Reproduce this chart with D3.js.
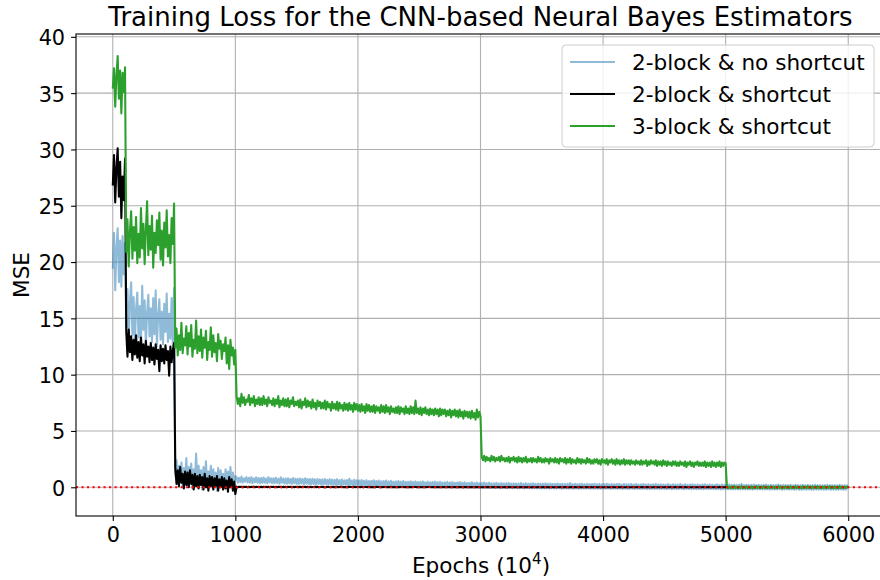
<!DOCTYPE html>
<html><head><meta charset="utf-8">
<script src="https://cdn.jsdelivr.net/npm/d3@7/dist/d3.min.js"></script>
<style>
body{margin:0;background:#fff;}
text{font-family:"DejaVu Sans",sans-serif;fill:#000;}
</style>
</head><body>
<svg id="chart" width="880" height="580"></svg>
<script>
// ---------------- data ----------------
const EPOCH_STEP = 10; // one recorded value every 10 (x10^4) epochs, epoch 0 .. 6000
const xTicks = [0, 1000, 2000, 3000, 4000, 5000, 6000];
const yTicks = [0, 5, 10, 15, 20, 25, 30, 35, 40];
const seriesNames = ["2-block & no shortcut", "2-block & shortcut", "3-block & shortcut"];
const titleText = "Training Loss for the CNN-based Neural Bayes Estimators";

const noShortcut2 = [
  19.4,22.6,17.5,21.3,23.0,18.2,21.9,17.8,22.3,18.9,21.7,
  14.2,17.6,13.0,16.4,18.2,13.5,16.9,12.7,15.8,17.3,
  13.3,16.1,12.8,17.9,14.0,16.6,12.6,15.5,17.1,13.4,
  15.9,12.9,16.8,13.6,17.5,12.5,15.2,16.7,13.1,15.6,
  12.7,16.3,13.8,17.2,12.9,15.4,13.2,16.8,12.6,17.7,
  1.1,2.4,0.3,1.9,0.6,2.2,0.1,1.7,0.5,2.6,
  0.2,1.8,0.7,2.1,-0.1,1.6,0.4,3.0,0.2,1.9,
  0.5,1.5,-0.2,1.8,0.3,2.3,0.1,1.4,0.6,1.9,
  0.0,1.6,0.4,1.3,-0.3,1.7,0.2,1.5,0.5,1.2,
  -0.1,1.6,0.3,1.4,0.0,1.8,0.2,1.3,-0.2,1.0,
  .9,.4,.85,.45,.95,.4,.8,.5,.9,.42,
  .85,.4,.9,.38,.8,.45,.88,.4,.82,.36,
  .82,.38,.86,.4,.78,.35,.9,.42,.8,.36,
  .8,.35,.84,.38,.76,.32,.88,.4,.78,.34,
  .78,.32,.8,.36,.74,.3,.82,.35,.76,.3,
  .75,.3,.78,.34,.72,.28,.8,.32,.74,.28,
  .72,.26,.76,.3,.7,.25,.74,.3,.7,.24,
  .7,.24,.74,.28,.66,.22,.72,.26,.68,.22,
  .66,.2,.72,.25,.64,.18,.68,.24,.62,.2,
  .64,.18,.76,.22,.6,.16,.66,.2,.62,.18,
  .6,.15,.64,.2,.58,.14,.62,.18,.56,.12,
  .58,.12,.62,.16,.55,.1,.6,.15,.54,.12,
  .55,.1,.6,.14,.52,.08,.58,.12,.5,.1,
  .52,.08,.56,.12,.5,.06,.55,.1,.48,.08,
  .5,.06,.54,.1,.48,.04,.52,.08,.46,.06,
  .48,.04,.52,.08,.45,.02,.5,.06,.44,.04,
  .46,.02,.5,.06,.44,0,.48,.04,.42,.02,
  .44,0,.48,.04,.42,-.02,.46,.02,.4,0,
  .42,-.02,.46,.02,.4,-.04,.44,0,.38,-.02,
  .4,-.04,.44,0,.38,-.05,.42,-.02,.36,-.04,
  .38,-.05,.42,-.02,.36,-.06,.4,-.04,.35,-.05,
  .36,-.06,.4,-.04,.34,-.08,.38,-.05,.34,-.06,
  .35,-.08,.38,-.05,.32,-.08,.36,-.06,.33,-.08,
  .34,-.08,.37,-.06,.31,-.1,.35,-.07,.32,-.08,
  .33,-.1,.36,-.07,.3,-.1,.34,-.08,.31,-.1,
  .32,-.1,.35,-.08,.3,-.12,.33,-.09,.3,-.1,
  .31,-.1,.34,-.09,.29,-.12,.32,-.1,.29,-.11,
  .3,-.12,.38,-.1,.28,-.12,.31,-.1,.28,-.12,
  .3,-.12,.32,-.1,.27,-.13,.3,-.11,.28,-.12,
  .29,-.12,.31,-.11,.27,-.14,.3,-.12,.27,-.13,
  .28,-.13,.31,-.11,.26,-.14,.29,-.12,.26,-.13,
  .28,-.14,.3,-.12,.25,-.15,.28,-.13,.26,-.14,
  .27,-.14,.3,-.12,.25,-.15,.28,-.13,.25,-.14,
  .26,-.15,.29,-.13,.24,-.16,.27,-.14,.25,-.15,
  .26,-.15,.29,-.13,.24,-.16,.27,-.14,.24,-.15,
  .25,-.16,.28,-.14,.23,-.17,.26,-.15,.24,-.16,
  .25,-.16,.28,-.14,.23,-.17,.26,-.15,.23,-.16,
  .24,-.17,.27,-.15,.22,-.18,.25,-.16,.23,-.17,
  .24,-.17,.27,-.15,.22,-.18,.25,-.16,.22,-.17,
  .23,-.18,.26,-.16,.21,-.19,.24,-.17,.22,-.18,
  .23,-.18,.26,-.16,.21,-.2,.24,-.17,.21,-.18,
  .22,-.19,.3,-.17,.2,-.2,.23,-.18,.21,-.19,
  .22,-.19,.25,-.17,.2,-.2,.23,-.18,.2,-.19,
  .21,-.2,.24,-.18,.19,-.21,.22,-.19,.2,-.2,
  .21,-.2,.24,-.18,.19,-.21,.22,-.19,.19,-.2,
  .2,-.2,.23,-.19,.18,-.22,.21,-.2,.19,-.21,
  .2,-.21,.23,-.19,.18,-.22,.21,-.2,.18,-.21,
  .19,-.21,.22,-.2,.17,-.22,.2,-.2,.18,-.21,
  .19,-.22,.22,-.2,.17,-.22,.2,-.21,.17,-.22,
  .18,-.22,.21,-.2,.17,-.22,.19,-.21,.17,0
];

const shortcut2 = [
  26.8,29.5,25.3,28.4,30.1,25.8,28.9,23.9,27.6,25.5,29.2,
  13.8,11.6,14.0,12.0,13.4,11.3,13.1,11.8,13.5,11.5,
  12.9,11.2,13.3,11.7,12.7,11.0,13.0,11.6,12.5,11.1,
  12.8,11.3,12.4,10.9,12.7,11.4,12.2,10.3,12.6,11.2,
  12.3,11.0,12.6,11.3,12.1,9.9,12.5,11.1,12.2,12.8,
  1.7,0.3,1.5,0.1,1.8,0.4,1.2,-0.1,1.4,0.2,
  1.3,0.0,1.5,0.3,1.1,-0.2,1.2,0.1,1.0,-0.1,
  1.1,0.2,0.9,-0.2,1.2,0.0,0.8,-0.3,1.0,0.1,
  0.9,-0.2,0.8,0.1,1.0,-0.3,0.7,0.0,0.9,-0.2,
  0.8,-0.1,0.6,-0.4,0.9,0.0,0.7,-0.3,0.5,-0.6,
  .06,.01,.05,.02,.06,0,.05,.02,.05,.01,
  .05,.01,.04,.02,.06,0,.04,.02,.05,.01,
  .05,0,.04,.02,.05,.01,.04,0,.05,.02,
  .04,.01,.05,0,.04,.02,.05,.01,.04,0,
  .04,.01,.05,.02,.04,0,.05,.01,.04,.02,
  .05,0,.04,.01,.05,.02,.04,0,.04,.01,
  .04,.01,.03,.02,.05,0,.04,.01,.03,.02,
  .04,0,.03,.01,.04,.02,.03,0,.04,.01,
  .03,.01,.04,0,.03,.02,.04,.01,.03,0,
  .03,.01,.04,.02,.03,0,.04,.01,.03,.02,
  .03,0,.04,.01,.03,.02,.03,0,.04,.01,
  .03,.01,.03,0,.04,.02,.03,.01,.03,0,
  .03,.02,.03,0,.03,.01,.04,0,.03,.01,
  .02,.01,.03,0,.03,.02,.02,0,.03,.01,
  .03,0,.02,.01,.03,.02,.02,0,.03,.01,
  .02,.01,.03,0,.02,.01,.03,.02,.02,0,
  .02,0,.03,.01,.02,0,.02,.01,.03,0,
  .02,.01,.02,0,.03,.01,.02,0,.02,.01,
  .02,0,.02,.01,.02,0,.03,.01,.02,0,
  .02,.01,.02,0,.02,.01,.02,0,.02,.01,
  .01,.02,0,.02,.01,.02,0,.01,.02,0,
  .02,0,.01,.02,0,.01,.02,0,.01,.02,
  .01,0,.02,.01,0,.02,.01,0,.01,.02,
  0,.01,.02,0,.01,.02,0,.01,.02,.01,
  .01,0,.02,.01,0,.01,.02,0,.01,.01,
  .02,.01,0,.02,.01,0,.01,.02,0,.01,
  .01,.02,0,.01,.02,0,.01,.01,.02,0,
  .01,0,.01,.02,0,.01,.02,.01,0,.01,
  .02,0,.01,.01,0,.02,.01,0,.01,.02,
  0,.01,.02,.01,0,.01,.02,0,.01,.01,
  .01,0,.02,.01,0,.01,.01,.02,0,.01,
  .02,.01,0,.01,.02,0,.01,.01,0,.02,
  .01,0,.01,.02,.01,0,.01,.02,0,.01,
  0,.02,.01,0,.01,.02,.01,0,.01,.01,
  .01,.02,0,.01,.01,0,.02,.01,0,.01,
  .02,0,.01,.01,.02,0,.01,0,.02,.01,
  .01,0,.02,.01,0,.01,.02,.01,0,.01,
  0,.01,.01,.02,0,.01,.01,0,.02,.01,
  .01,.02,0,.01,.01,.02,0,.01,.01,0,
  .02,.01,0,.01,.02,.01,0,.01,.01,.02,
  .01,0,.01,.02,0,.01,.02,.01,0,.01,
  0,.01,.02,.01,0,.02,.01,0,.01,.02,
  .01,.02,0,.01,.02,0,.01,.01,.02,0,
  .01,0,.02,.01,.01,0,.02,.01,0,.01,
  .02,.01,0,.01,.02,.01,0,.02,.01,0,
  .01,.02,.01,0,.01,.02,0,.01,.02,.01,
  0,.01,.02,.01,0,.01,.02,0,.01,.02,
  .01,0,.01,.02,.01,0,.01,.02,.01,0,
  .01,.02,0,.01,.01,.02,0,.01,.02,.01,
  .02,0,.01,.02,.01,0,.01,.02,.01,.01
];

const shortcut3 = [
  35.4,37.2,33.8,36.6,38.3,34.5,37.0,33.2,36.8,35.1,37.3,
  20.9,23.8,19.6,22.7,24.5,20.3,23.1,21.0,24.0,19.9,
  22.5,20.4,24.8,21.2,23.4,19.8,22.9,25.4,20.6,23.2,
  21.1,24.1,19.5,22.6,20.8,23.7,21.5,24.4,20.2,22.8,
  19.7,23.5,21.3,24.6,20.5,22.4,19.9,23.9,21.6,25.2,
  12.4,14.1,11.7,13.5,12.2,14.6,11.9,13.2,12.6,14.3,
  11.8,13.7,12.5,14.4,11.6,13.1,12.3,14.8,11.9,13.4,
  12.1,14.0,11.5,13.3,12.4,13.9,11.3,12.9,12.2,14.2,
  11.6,13.5,12.0,12.8,11.2,13.6,12.3,13.0,11.4,12.7,
  12.1,13.3,11.0,12.6,10.5,13.1,11.7,12.4,10.9,12.2,
  8.1,7.4,7.9,7.2,8.3,7.5,8.0,7.3,7.8,7.6,
  8.2,7.3,7.9,7.5,8.1,7.2,7.8,7.4,8.0,7.3,
  7.9,7.3,8.1,7.4,7.8,7.2,8.0,7.5,7.7,7.3,
  7.9,7.2,7.8,7.4,8.1,7.1,7.7,7.3,7.9,7.2,
  7.8,7.2,7.9,7.1,7.7,7.4,8.0,7.2,7.6,7.3,
  7.7,7.1,7.8,7.0,7.6,7.3,7.9,7.1,7.7,7.2,
  7.6,7.0,7.8,7.1,7.5,6.9,7.7,7.2,7.6,7.0,
  7.5,7.0,7.7,6.9,7.6,7.1,7.4,6.8,7.6,7.0,
  7.4,6.9,7.6,6.8,7.5,7.0,7.3,6.8,7.5,6.9,
  7.4,6.8,7.5,6.9,7.3,6.7,7.5,6.9,7.4,6.8,
  7.3,6.7,7.4,6.8,7.2,6.6,7.4,6.8,7.3,6.7,
  7.2,6.7,7.3,6.6,7.2,6.8,7.1,6.6,7.3,6.7,
  7.2,6.6,7.3,6.7,7.1,6.5,7.2,6.7,7.0,6.6,
  7.1,6.6,7.2,6.5,7.1,6.7,7.0,6.5,7.2,6.6,
  7.0,6.5,7.2,6.6,7.1,6.5,7.7,6.6,7.0,6.5,
  7.1,6.4,7.0,6.6,7.1,6.5,6.9,6.4,7.0,6.5,
  6.9,6.4,7.0,6.5,6.9,6.3,7.0,6.4,6.9,6.5,
  6.9,6.3,6.8,6.4,6.9,6.2,6.8,6.4,6.9,6.3,
  6.8,6.2,6.9,6.3,6.7,6.1,6.8,6.3,6.7,6.2,
  6.7,6.1,6.8,6.2,6.6,6.0,6.9,6.2,6.7,6.3,
  2.7,2.4,2.8,2.3,2.7,2.4,2.6,2.3,2.8,2.4,
  2.7,2.3,2.6,2.4,2.7,2.3,2.8,2.4,2.6,2.3,
  2.6,2.3,2.7,2.2,2.6,2.4,2.7,2.3,2.6,2.2,
  2.7,2.3,2.6,2.2,2.6,2.3,2.7,2.2,2.5,2.3,
  2.6,2.2,2.6,2.3,2.5,2.2,2.7,2.3,2.6,2.2,
  2.5,2.2,2.6,2.3,2.5,2.1,2.6,2.3,2.5,2.2,
  2.6,2.2,2.5,2.1,2.6,2.3,2.5,2.2,2.6,2.1,
  2.5,2.2,2.6,2.1,2.5,2.2,2.4,2.1,2.6,2.2,
  2.5,2.1,2.5,2.2,2.4,2.1,2.6,2.2,2.5,2.1,
  2.4,2.1,2.5,2.2,2.5,2.1,2.4,2.0,2.5,2.2,
  2.4,2.1,2.5,2.0,2.4,2.2,2.5,2.1,2.4,2.0,
  2.5,2.1,2.4,2.0,2.4,2.1,2.5,2.0,2.4,2.1,
  2.4,2.0,2.4,2.1,2.3,2.0,2.4,2.1,2.3,2.0,
  2.4,2.0,2.3,2.1,2.4,1.9,2.3,2.0,2.4,2.1,
  2.3,2.0,2.4,1.9,2.3,2.0,2.3,1.9,2.4,2.0,
  2.3,1.9,2.3,2.0,2.2,1.9,2.3,2.0,2.3,1.9,
  2.2,1.9,2.3,2.0,2.2,1.9,2.3,1.8,2.2,2.0,
  2.3,1.9,2.2,1.8,2.2,2.0,2.3,1.9,2.2,1.9,
  2.2,1.9,2.3,1.8,2.2,1.9,2.2,1.8,2.3,1.9,
  2.2,1.8,2.2,1.9,2.3,1.8,2.2,1.9,2.2,2.1,
  .1,-.08,.06,-.1,.08,-.04,.1,-.07,.03,-.1,
  .07,-.05,.1,-.09,.04,-.06,.09,-.1,.05,-.03,
  .08,-.1,.04,-.07,.1,-.05,.06,-.09,.02,-.08,
  .1,-.04,.07,-.1,.05,-.06,.09,-.03,.06,-.1,
  .04,-.08,.1,-.05,.07,-.1,.03,-.07,.09,-.04,
  .06,-.1,.08,-.06,.04,-.09,.1,-.05,.07,-.08,
  .03,-.1,.09,-.04,.06,-.07,.1,-.06,.05,-.1,
  .08,-.03,.06,-.09,.1,-.05,.04,-.1,.07,-.06,
  .09,-.08,.05,-.04,.1,-.07,.03,-.1,.08,-.05,
  .06,-.09,.1,-.06,.04,-.08,.07,-.03,.05,0
];

const seriesValues = [noShortcut2, shortcut2, shortcut3];
const seriesColors = ["#1f77b4", "#000000", "#2ca02c"];
const seriesOpacity = [0.5, 1, 1];

// ---------------- layout ----------------
const LW = 2.08; // 1.5pt at 100 dpi
const plot = {left: 76, right: 885, top: 34, bottom: 516};
const svg = d3.select("#chart");

const x = d3.scaleLinear().domain([-300, 6300]).range([plot.left, plot.right]);
const y = d3.scaleLinear().domain([-2.55, 40.25]).range([plot.bottom, plot.top]);

svg.append("defs").append("clipPath").attr("id", "clip")
  .append("rect").attr("x", plot.left).attr("y", plot.top)
  .attr("width", plot.right - plot.left).attr("height", plot.bottom - plot.top);

// grid
const grid = svg.append("g").attr("stroke", "#b0b0b0").attr("stroke-width", 1.1);
grid.selectAll("line.gx").data(xTicks).join("line")
  .attr("x1", d => x(d)).attr("x2", d => x(d))
  .attr("y1", plot.top).attr("y2", plot.bottom);
grid.selectAll("line.gy").data(yTicks).join("line")
  .attr("x1", plot.left).attr("x2", plot.right)
  .attr("y1", d => y(d)).attr("y2", d => y(d));

// lines
const lineGen = d3.line().x((d, i) => x(i * EPOCH_STEP)).y(d => y(d));
const linesG = svg.append("g").attr("clip-path", "url(#clip)");
seriesValues.forEach((vals, k) => {
  linesG.append("path").datum(vals)
    .attr("fill", "none")
    .attr("stroke", seriesColors[k])
    .attr("stroke-opacity", seriesOpacity[k])
    .attr("stroke-width", LW)
    .attr("stroke-linejoin", "round")
    .attr("d", lineGen);
});

// zero reference line
linesG.append("line")
  .attr("x1", plot.left).attr("x2", plot.right)
  .attr("y1", y(0)).attr("y2", y(0))
  .attr("stroke", "#ff0000").attr("stroke-width", LW)
  .attr("stroke-dasharray", "2.08,3.43");

// axes
const xAxis = d3.axisBottom(x).tickValues(xTicks).tickSize(4.9).tickPadding(6.8).tickFormat(d3.format("d"));
const yAxis = d3.axisLeft(y).tickValues(yTicks).tickSize(4.9).tickPadding(6).tickFormat(d3.format("d"));

const gx = svg.append("g").attr("transform", `translate(0,${plot.bottom})`).call(xAxis);
const gy = svg.append("g").attr("transform", `translate(${plot.left},0)`).call(yAxis);
[gx, gy].forEach(g => {
  g.select(".domain").remove();
  g.selectAll(".tick line").attr("stroke", "#000").attr("stroke-width", 1.1);
  g.selectAll(".tick text").attr("font-family", "DejaVu Sans").attr("font-size", 20.8).attr("fill", "#000");
});
gy.selectAll(".tick text").attr("dy", "0.38em");

// spines
svg.append("rect")
  .attr("x", plot.left).attr("y", plot.top)
  .attr("width", plot.right - plot.left).attr("height", plot.bottom - plot.top)
  .attr("fill", "none").attr("stroke", "#000").attr("stroke-width", 1.1);

// title
svg.append("text")
  .attr("x", (plot.left + plot.right) / 2).attr("y", 25.7)
  .attr("text-anchor", "middle").attr("font-size", 26)
  .text(titleText);

// x label
const xl = svg.append("text")
  .attr("x", 481).attr("y", 573)
  .attr("text-anchor", "middle").attr("font-size", 21.6);
xl.append("tspan").text("Epochs (10");
xl.append("tspan").attr("dy", -9).attr("font-size", 15).text("4");
xl.append("tspan").attr("dy", 9).text(")");

// y label
svg.append("text")
  .attr("transform", `translate(28.5,${(plot.top + plot.bottom) / 2}) rotate(-90)`)
  .attr("text-anchor", "middle").attr("font-size", 21.6)
  .text("MSE");

// legend
const leg = svg.append("g");
leg.append("rect")
  .attr("x", 562).attr("y", 45).attr("width", 312).attr("height", 102)
  .attr("rx", 4).attr("ry", 4)
  .attr("fill", "#fff").attr("fill-opacity", 0.8)
  .attr("stroke", "#cccccc").attr("stroke-width", 1);
const legRows = [62, 94, 126];
seriesNames.forEach((name, k) => {
  leg.append("line")
    .attr("x1", 570).attr("x2", 615)
    .attr("y1", legRows[k]).attr("y2", legRows[k])
    .attr("stroke", seriesColors[k]).attr("stroke-opacity", seriesOpacity[k])
    .attr("stroke-width", LW);
  leg.append("text")
    .attr("x", 632).attr("y", legRows[k])
    .attr("dominant-baseline", "central")
    .attr("font-size", 21.6)
    .text(name);
});
</script>
</body></html>
